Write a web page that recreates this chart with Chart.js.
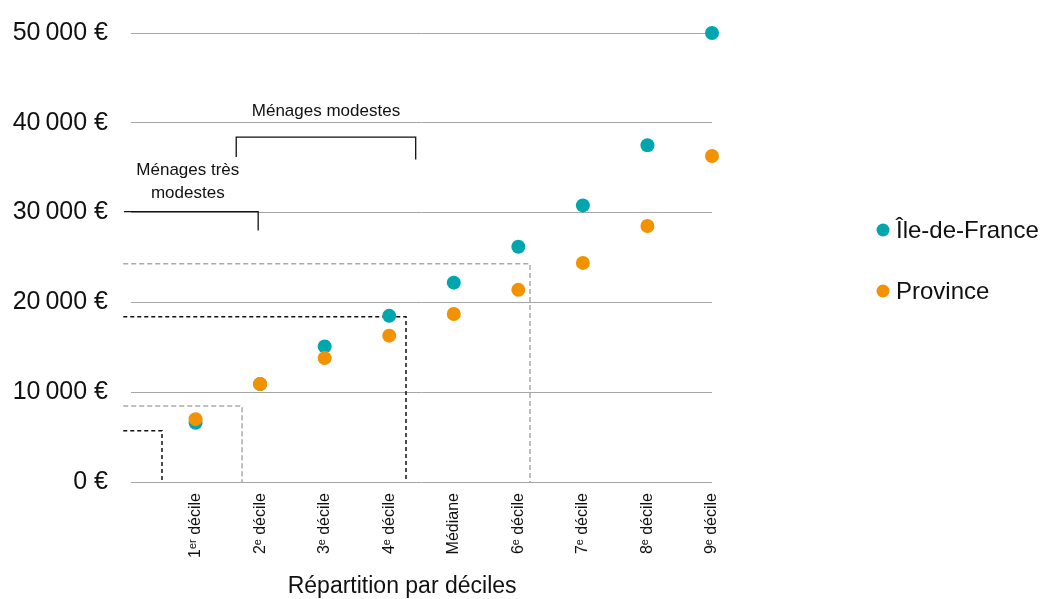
<!DOCTYPE html>
<html lang="fr">
<head>
    <meta charset="UTF-8">
    <title>Répartition par déciles</title>
    <script src="https://cdn.jsdelivr.net/npm/chart.js"></script>
    <style>
        body {
            margin: 0;
            background-color: #fff;
        }

        #chartContainer {
            width: 1043px;
            height: 599px;
        }
    </style>
</head>
<body>
    <div id="chartContainer">
        <canvas id="decileChart"></canvas>
    </div>

    <script>
        // categories and values (euros)
        const categories = ['1\u1D49\u02B3 décile', '2\u1D49 décile', '3\u1D49 décile', '4\u1D49 décile', 'Médiane',
            '6\u1D49 décile', '7\u1D49 décile', '8\u1D49 décile', '9\u1D49 décile'];
        const ileDeFrance = [6600, 10900, 15100, 18500, 22200, 26200, 30800, 37500, 50000];
        const province = [7000, 10900, 13800, 16300, 18700, 21400, 24400, 28500, 36300];
        const yTicks = [0, 10000, 20000, 30000, 40000, 50000];

        // dashed income thresholds: x where it drops, y = value
        const seuilX = [0.48, 1.72, 4.26, 6.18];
        const seuilY = [5700, 8450, 18400, 24300];
        const seuilStart = -0.12;

        // brackets
        const bracketTresModestes = [[-0.11, 28000], [-0.11, 30100], [1.97, 30100], [1.97, 28000]];
        const bracketModestes = [[1.63, 36200], [1.63, 38400], [4.41, 38400], [4.41, 35900]];
        const bracketLabels = [
            { text: 'Ménages modestes', x: 3.02, y: 41300 },
            { text: 'Ménages très', x: 0.88, y: 34700 },
            { text: 'modestes', x: 0.88, y: 32200 },
        ];

        const TEAL = '#00a6ad';
        const ORANGE = '#f39200';
        const FONT = '"Liberation Sans", Arial, sans-serif';

        Chart.defaults.font.family = FONT;
        Chart.defaults.color = '#111';

        const pointsOf = arr => arr.map((v, i) => ({ x: i + 1, y: v }));
        const pairsOf = arr => arr.map(p => ({ x: p[0], y: p[1] }));

        const thresholdSets = seuilX.map((x, i) => ({
            type: 'line',
            data: [{ x: seuilStart, y: seuilY[i] }, { x: x, y: seuilY[i] }, { x: x, y: 0 }],
            borderColor: i % 2 === 0 ? '#111' : '#aaa',
            borderWidth: 1.5,
            borderDash: i % 2 === 0 ? [4, 3] : [5, 3],
            pointRadius: 0,
            fill: false,
            order: 3,
            clip: false,
        }));

        const bracketSets = [bracketTresModestes, bracketModestes].map(b => ({
            type: 'line',
            data: pairsOf(b),
            borderColor: '#111',
            borderWidth: 1.3,
            pointRadius: 0,
            fill: false,
            order: 3,
            clip: false,
        }));

        // extra text: bracket labels, x title, legend
        const extrasPlugin = {
            id: 'extras',
            afterDraw(chart) {
                const c = chart.ctx;
                const xs = chart.scales.x;
                const ys = chart.scales.y;
                c.save();
                c.fillStyle = '#111';
                c.textAlign = 'center';
                c.textBaseline = 'middle';
                c.font = '17px ' + FONT;
                bracketLabels.forEach(l => {
                    c.fillText(l.text, xs.getPixelForValue(l.x), ys.getPixelForValue(l.y));
                });

                c.font = '23px ' + FONT;
                c.fillText('Répartition par déciles', xs.getPixelForValue(4.2), 587);

                // legend
                c.textAlign = 'left';
                const items = chart.data.datasets.filter(d => d.label);
                items.forEach((d, i) => {
                    const y = 230 + i * 61;
                    c.fillStyle = d.backgroundColor;
                    c.beginPath();
                    c.arc(883, y, 6.5, 0, Math.PI * 2);
                    c.fill();
                    c.fillStyle = '#111';
                    c.font = '24px ' + FONT;
                    c.fillText(d.label, 896, y + 1);
                });
                c.restore();
            }
        };

        const ctx = document.getElementById('decileChart').getContext('2d');
        const chart = new Chart(ctx, {
            type: 'scatter',
            data: {
                datasets: [
                    {
                        label: 'Île-de-France',
                        data: pointsOf(ileDeFrance),
                        backgroundColor: TEAL,
                        borderWidth: 0,
                        pointRadius: 7,
                        pointHoverRadius: 7,
                        order: 1,
                        clip: false,
                    },
                    {
                        label: 'Province',
                        data: pointsOf(province),
                        backgroundColor: ORANGE,
                        borderWidth: 0,
                        pointRadius: 7,
                        pointHoverRadius: 7,
                        order: 0,
                        clip: false,
                    },
                    ...thresholdSets,
                    ...bracketSets,
                ],
            },
            options: {
                responsive: true,
                maintainAspectRatio: false,
                animation: false,
                layout: {
                    padding: { top: 33, right: 331, left: 0, bottom: 0 },
                },
                plugins: {
                    legend: { display: false },
                    tooltip: { enabled: false },
                },
                scales: {
                    x: {
                        type: 'linear',
                        min: 0,
                        max: 9,
                        grid: { display: false },
                        border: { display: false },
                        afterBuildTicks: scale => {
                            scale.ticks = categories.map((c, i) => ({ value: i + 1 }));
                        },
                        afterFit: scale => {
                            scale.height = 117;
                            scale.paddingLeft = 0;
                            scale.paddingRight = 0;
                        },
                        ticks: {
                            autoSkip: false,
                            minRotation: 90,
                            maxRotation: 90,
                            padding: 3,
                            font: { size: 16 },
                            callback: v => categories[v - 1],
                        },
                    },
                    y: {
                        min: 0,
                        max: 50000,
                        grid: { color: '#a6a6a6', lineWidth: 1, drawTicks: false },
                        border: { display: false },
                        afterBuildTicks: scale => {
                            scale.ticks = yTicks.map(v => ({ value: v }));
                        },
                        afterFit: scale => {
                            scale.width = 131;
                            scale.paddingTop = 0;
                            scale.paddingBottom = 0;
                        },
                        ticks: {
                            padding: 23,
                            font: { size: 25 },
                            callback: v => v.toLocaleString('fr-FR') + ' €',
                        },
                    },
                },
            },
            plugins: [extrasPlugin],
        });
    </script>
</body>
</html>
